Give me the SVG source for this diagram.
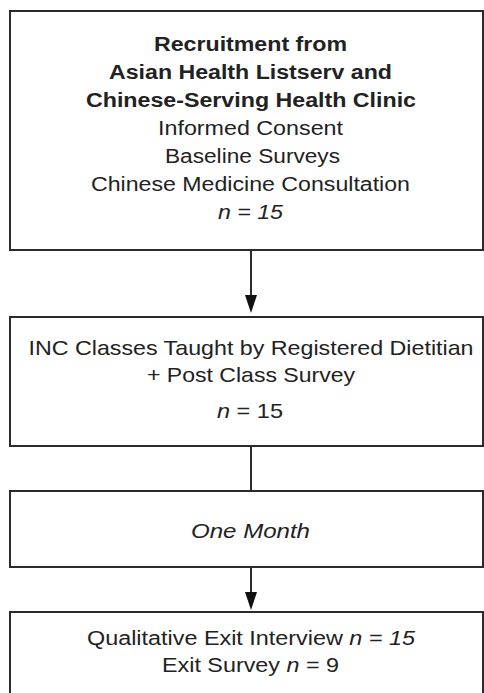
<svg xmlns="http://www.w3.org/2000/svg" width="484" height="693" viewBox="0 0 484 693">
<style>
.box{fill:#fff;stroke:#2b2b2b;stroke-width:2}
.t{font-family:"Liberation Sans",Arial,sans-serif;font-size:20px;fill:#222;text-anchor:middle}
.b{font-weight:bold}
.i{font-style:italic}
.conn{stroke:#2b2b2b;stroke-width:2;fill:none}
</style>
<defs>
<marker id="ah" markerWidth="18" markerHeight="12" refX="0" refY="6" orient="auto" markerUnits="userSpaceOnUse" viewBox="0 0 18 12">
<path d="M0,0 L18,6 L0,12 Z" fill="#111"/>
</marker>
</defs>
<rect x="0" y="0" width="484" height="693" fill="#fff"/>
<g id="node-recruitment">
<rect class="box" x="10" y="11" width="473" height="239"/>
<text class="t b" x="250.5" y="51" textLength="193" lengthAdjust="spacingAndGlyphs">Recruitment from</text>
<text class="t b" x="250.5" y="79" textLength="283" lengthAdjust="spacingAndGlyphs">Asian Health Listserv and</text>
<text class="t b" x="251" y="107" textLength="330" lengthAdjust="spacingAndGlyphs">Chinese-Serving Health Clinic</text>
<text class="t" x="250.5" y="135" textLength="185" lengthAdjust="spacingAndGlyphs">Informed Consent</text>
<text class="t" x="252.5" y="163" textLength="175" lengthAdjust="spacingAndGlyphs">Baseline Surveys</text>
<text class="t" x="250.5" y="191" textLength="319" lengthAdjust="spacingAndGlyphs">Chinese Medicine Consultation</text>
<text class="t i" x="250.5" y="219" textLength="65" lengthAdjust="spacingAndGlyphs">n = 15</text>
</g>
<g id="node-classes">
<rect class="box" x="10" y="317" width="473" height="129"/>
<text class="t" x="251" y="355" textLength="445" lengthAdjust="spacingAndGlyphs" style="font-size:21px">INC Classes Taught by Registered Dietitian</text>
<text class="t" x="251" y="382" textLength="208" lengthAdjust="spacingAndGlyphs" style="font-size:21px">+ Post Class Survey</text>
<text class="t" x="250" y="418" textLength="66" lengthAdjust="spacingAndGlyphs" style="font-size:21px"><tspan class="i">n</tspan> = 15</text>
</g>
<g id="node-month">
<rect class="box" x="10" y="491" width="473" height="76"/>
<text class="t i" x="250.5" y="538" textLength="119" lengthAdjust="spacingAndGlyphs" style="font-size:21px">One Month</text>
</g>
<g id="node-exit">
<rect class="box" x="10" y="612" width="473" height="100"/>
<text class="t" x="251" y="645" textLength="328" lengthAdjust="spacingAndGlyphs">Qualitative Exit Interview <tspan class="i">n = 15</tspan></text>
<text class="t" x="250.5" y="672" textLength="177" lengthAdjust="spacingAndGlyphs">Exit Survey <tspan class="i">n</tspan> = 9</text>
</g>
<g id="connectors">
<line class="conn" x1="251" y1="250" x2="251" y2="295" marker-end="url(#ah)"/>
<line class="conn" x1="251" y1="446" x2="251" y2="491"/>
<line class="conn" x1="251" y1="567" x2="251" y2="592" marker-end="url(#ah)"/>
</g>
</svg>
